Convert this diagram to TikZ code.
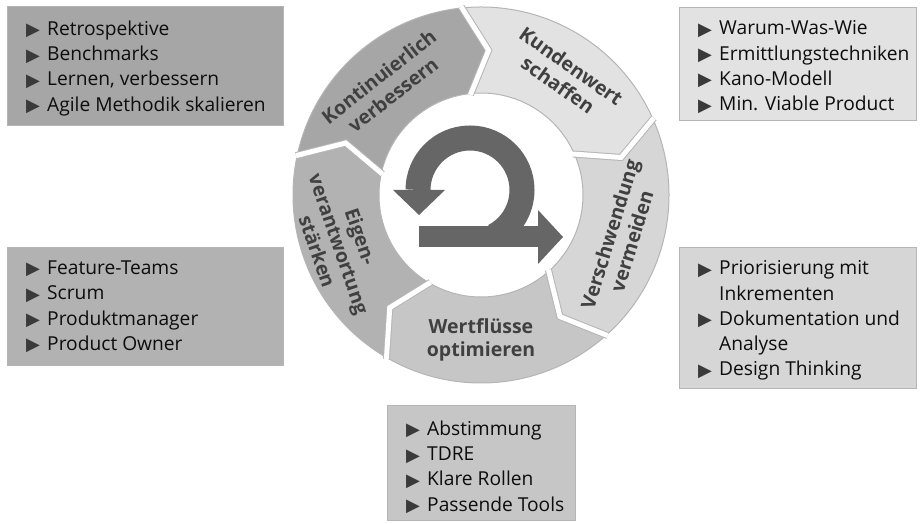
\documentclass[tikz,border=0pt]{standalone}
\usepackage{fontspec}
\setmainfont{Open Sans}
\newfontfamily\lblfont{Open Sans}
\newfontfamily\symfont{DejaVu Sans}

\definecolor{segA}{HTML}{A6A6A6}
\definecolor{segB}{HTML}{E2E2E2}
\definecolor{segC}{HTML}{D6D6D6}
\definecolor{segD}{HTML}{C6C6C6}
\definecolor{segE}{HTML}{B2B2B2}
\definecolor{segline}{HTML}{B5B5B5}
\definecolor{lblc}{HTML}{404040}
\definecolor{arrowc}{HTML}{666666}
\definecolor{bulc}{HTML}{3A3A3A}
\definecolor{txtc}{HTML}{0D0D0D}

% bullet and continuation indent for the list boxes
\newcommand\bul{\makebox[21pt][l]{\raisebox{-0.5pt}{\color{bulc}\symfont\fontsize{18}{18}\selectfont ▶}}}
\newcommand\cont{\hspace*{21pt}}

\begin{document}
\begin{tikzpicture}[x=1pt,y=1pt,
  infobox/.style={draw=segline, line width=1.2pt, rectangle, anchor=north west, inner sep=0pt},
  listnode/.style={anchor=north west, inner sep=0pt, text=txtc, font=\fontsize{19.2}{25.3}\selectfont, align=left},
  seglabel/.style={font=\lblfont\bfseries\fontsize{19.5}{23}\selectfont, align=center, text=lblc, inner sep=0pt},
  ringseg/.style={draw=segline, line width=1pt},
  gapline/.style={draw=segline, line width=1pt, double=white, double distance=5pt},
  loopbar/.style={fill=arrowc}
]
\useasboundingbox (0,0) rectangle (923,524);

% list boxes
\node[infobox, fill=segA, minimum width=276pt, minimum height=119pt] (boxTL) at (7,518) {};
\node[infobox, fill=segB, minimum width=237pt, minimum height=113pt] (boxTR) at (679,517) {};
\node[infobox, fill=segE, minimum width=276pt, minimum height=118pt] (boxML) at (7,277) {};
\node[infobox, fill=segC, minimum width=237pt, minimum height=141pt] (boxMR) at (679,277) {};
\node[infobox, fill=segD, minimum width=188pt, minimum height=115pt] (boxB) at (387,119) {};

% list texts
\node[listnode] (txtTL) at (26,503.5) {\bul Retrospektive\\ \bul Benchmarks\\ \bul Lernen, verbessern\\ \bul Agile Methodik skalieren};
\node[listnode] (txtTR) at (698,503.5) {\bul Warum-Was-Wie\\ \bul Ermittlungstechniken\\ \bul Kano-Modell\\ \bul Min. Viable Product};
\node[listnode] (txtML) at (26,263.5) {\bul Feature-Teams\\ \bul Scrum\\ \bul Produktmanager\\ \bul Product Owner};
\node[listnode] (txtMR) at (698,263.5) {\bul Priorisierung mit\\ \cont Inkrementen\\ \bul Dokumentation und\\ \cont Analyse\\ \bul Design Thinking};
\node[listnode] (txtB) at (406,103.5) {\bul Abstimmung\\ \bul TDRE\\ \bul Klare Rollen\\ \bul Passende Tools};

% segmented cycle
\begin{scope}[shift={(481,329)}]
  \foreach \b/\c in {96/segB, 24/segC, -48/segD, -120/segE, 168/segA}{
    \filldraw[ringseg, fill=\c] (\b:188) arc[start angle=\b, end angle=\b-72, radius=188]
      -- (\b-81:145) -- (\b-72:102) arc[start angle=\b-72, end angle=\b, radius=102]
      -- (\b-9:145) -- cycle;
  }
  \foreach \b in {96,24,-48,-120,168}{
    \draw[gapline] (\b:189.2) -- (\b-9:145) -- (\b:100.8);
  }
  \node[seglabel, rotate=38] (labA) at (131:145) {Kontinuierlich\\verbessern};
  \node[seglabel, rotate=-35] (labB) at (55:146) {Kundenwert\\schaffen};
  \node[seglabel, rotate=73] (labC) at (343:146) {Verschwendung\\vermeiden};
  \node[seglabel] (labD) at (270:145) {Wertflüsse\\optimieren};
  \node[seglabel, rotate=-71] (labE) at (199:150) {Eigen-\\verantwortung\\stärken};
\end{scope}

% loop arrow in the middle
\draw[arrowc, line width=25pt] (470,334) ++(180:52) arc[start angle=180, end angle=-62, radius=52];
\fill[loopbar] (393,334) -- (445,334) -- (419,309) -- cycle;
\fill[loopbar] (419,276.5) rectangle (539,297.5);
\fill[loopbar] (538,314) -- (563,287) -- (538,260) -- cycle;
\end{tikzpicture}
\end{document}
